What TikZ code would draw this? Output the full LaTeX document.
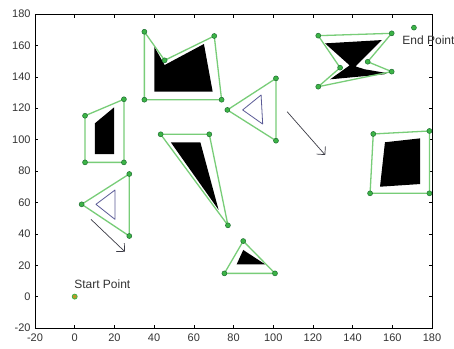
\documentclass[tikz,border=0pt]{standalone}
\usepackage{fontspec}
\setmainfont{Liberation Sans}
\usetikzlibrary{arrows.meta}
\definecolor{pathgreen}{RGB}{120,205,120}
\definecolor{dotgreen}{RGB}{60,180,70}
\definecolor{dotedge}{RGB}{30,110,50}
\definecolor{holeblue}{RGB}{90,90,150}
\definecolor{quivergray}{RGB}{60,60,70}
\definecolor{startfill}{RGB}{190,150,40}

\begin{document}
\begin{tikzpicture}[x=1.985pt, y=1.57pt]
    \tikzstyle{vertex} = [circle, draw=dotedge, fill=dotgreen, line width=0.5pt, minimum size=5pt, inner sep=0pt]
    \tikzstyle{pathedge} = [draw=pathgreen, line width=1.3pt, line join=round]
    \tikzstyle{obstacle} = [fill=black]
    \tikzstyle{hole} = [draw=holeblue, line width=0.8pt, line join=round]
    \tikzstyle{quiver} = [draw=quivergray, line width=0.7pt, -{Straight Barb[length=5.9pt, width=11.7pt]}]
    \tikzstyle{ticklabel} = [font=\fontsize{11}{13}\selectfont, text=black!80, inner sep=0pt]
    \tikzstyle{pointlabel} = [font=\fontsize{12}{14}\selectfont, text=black!80, inner sep=0pt, anchor=west]

    \useasboundingbox (-37.63,-32.74) rectangle (191.08,188.92);
    \fill[white] (-37.63,-32.74) rectangle (191.08,188.92);

    % axes
    \draw[line width=0.8pt] (-20,-20) rectangle (180,180);
    \foreach \t in {-20,0,...,180} {
        \draw[line width=0.6pt] (\t,-20) -- ++(0,3.5pt);
        \draw[line width=0.6pt] (\t,180) -- ++(0,-3.5pt);
        \draw[line width=0.6pt] (-20,\t) -- ++(3.5pt,0);
        \draw[line width=0.6pt] (180,\t) -- ++(-3.5pt,0);
        \node[ticklabel, anchor=north, yshift=-5.3pt] (xl\t) at (\t,-20) {\t};
        \node[ticklabel, anchor=east, xshift=-4.3pt] (yl\t) at (-20,\t) {\t};
    }

    % obstacles
    \fill[obstacle] (40.1,159.2) -- (45.3,147.5) -- (65.1,160.9) -- (69.5,130.5) -- (40.1,130.5) -- cycle;
    \fill[obstacle] (10.2,110.4) -- (19.9,120.6) -- (19.9,90.8) -- (10.2,90.8) -- cycle;
    \fill[obstacle] (48.4,98.3) -- (63.3,98.3) -- (72.5,55.2) -- cycle;
    \fill[obstacle] (126.1,161.3) -- (154.7,163.4) -- (144.6,150.7) -- (141.5,146.6) -- (146,144.8) -- (157.2,142.4) -- (156,141.6) -- (128.7,138.4) -- (138.5,147.3) -- cycle;
    \fill[obstacle] (156.3,98.3) -- (174,100.8) -- (174,71.7) -- (153.8,70) -- cycle;
    \fill[obstacle] (84.9,29.7) -- (95.9,20.6) -- (81.6,20.6) -- cycle;
    \draw[hole] (84.6,118.9) -- (93.9,128.4) -- (94.7,109.9) -- cycle;
    \draw[hole] (10.7,58.8) -- (20.3,67.9) -- (20.3,49.2) -- cycle;

    % polygon vertices
    \coordinate (a1) at (35.1,168.7);
    \coordinate (a2) at (45.3,150.5);
    \coordinate (a3) at (70.3,166);
    \coordinate (a4) at (74.0,125.4);
    \coordinate (a5) at (35.1,125.4);
    \coordinate (b1) at (5.2,115.2);
    \coordinate (b2) at (24.8,125.7);
    \coordinate (b3) at (24.8,85.5);
    \coordinate (b4) at (5.2,85.5);
    \coordinate (c1) at (43.3,103.4);
    \coordinate (c2) at (67.8,103.4);
    \coordinate (c3) at (77.2,45.4);
    \coordinate (d1) at (76.9,118.9);
    \coordinate (d2) at (101.4,139);
    \coordinate (d3) at (101.4,99.3);
    \coordinate (e1) at (122.7,166.2);
    \coordinate (e2) at (159.7,167.7);
    \coordinate (e3) at (147.6,149.6);
    \coordinate (e4) at (159.7,143.3);
    \coordinate (e5) at (122.7,133.7);
    \coordinate (e6) at (133.7,145.8);
    \coordinate (f1) at (150.4,103.6);
    \coordinate (f2) at (178.7,105.5);
    \coordinate (f3) at (178.7,65.8);
    \coordinate (f4) at (148.8,65.8);
    \coordinate (g1) at (27.5,78.1);
    \coordinate (g2) at (3.5,58.8);
    \coordinate (g3) at (27.5,38.6);
    \coordinate (h1) at (84.9,35.4);
    \coordinate (h2) at (75.4,14.8);
    \coordinate (h3) at (100.9,14.8);

    \draw[pathedge] (a1) -- (a2) -- (a3) -- (a4) -- (a5) -- cycle;
    \draw[pathedge] (b1) -- (b2) -- (b3) -- (b4) -- cycle;
    \draw[pathedge] (c1) -- (c2) -- (c3) -- cycle;
    \draw[pathedge] (d1) -- (d2) -- (d3) -- cycle;
    \draw[pathedge] (e1) -- (e2) -- (e3) -- (e4) -- (e5) -- (e6) -- cycle;
    \draw[pathedge] (f1) -- (f2) -- (f3) -- (f4) -- cycle;
    \draw[pathedge] (g1) -- (g2) -- (g3) -- cycle;
    \draw[pathedge] (h1) -- (h2) -- (h3) -- cycle;

    \foreach \p in {a1,a2,a3,a4,a5,b1,b2,b3,b4,c1,c2,c3,d1,d2,d3,e1,e2,e3,e4,e5,e6,f1,f2,f3,f4,g1,g2,g3,h1,h2,h3}
        \node[vertex] at (\p) {};

    % directions
    \coordinate (q1s) at (8.2,49.2);
    \coordinate (q1e) at (25.3,28.6);
    \coordinate (q2s) at (107,117.8);
    \coordinate (q2e) at (126.2,90.2);
    \draw[quiver] (q1s) -- (q1e);
    \draw[quiver] (q2s) -- (q2e);

    % start and goal
    \node[vertex, fill=startfill, draw=dotgreen, line width=0.8pt] (start) at (0,0) {};
    \node[vertex] (goal) at (170.9,171.3) {};
    \node[pointlabel] (startlbl) at (-0.3,8.0) {Start Point};
    \node[pointlabel] (goallbl) at (165.0,163.0) {End Point};
\end{tikzpicture}
\end{document}
